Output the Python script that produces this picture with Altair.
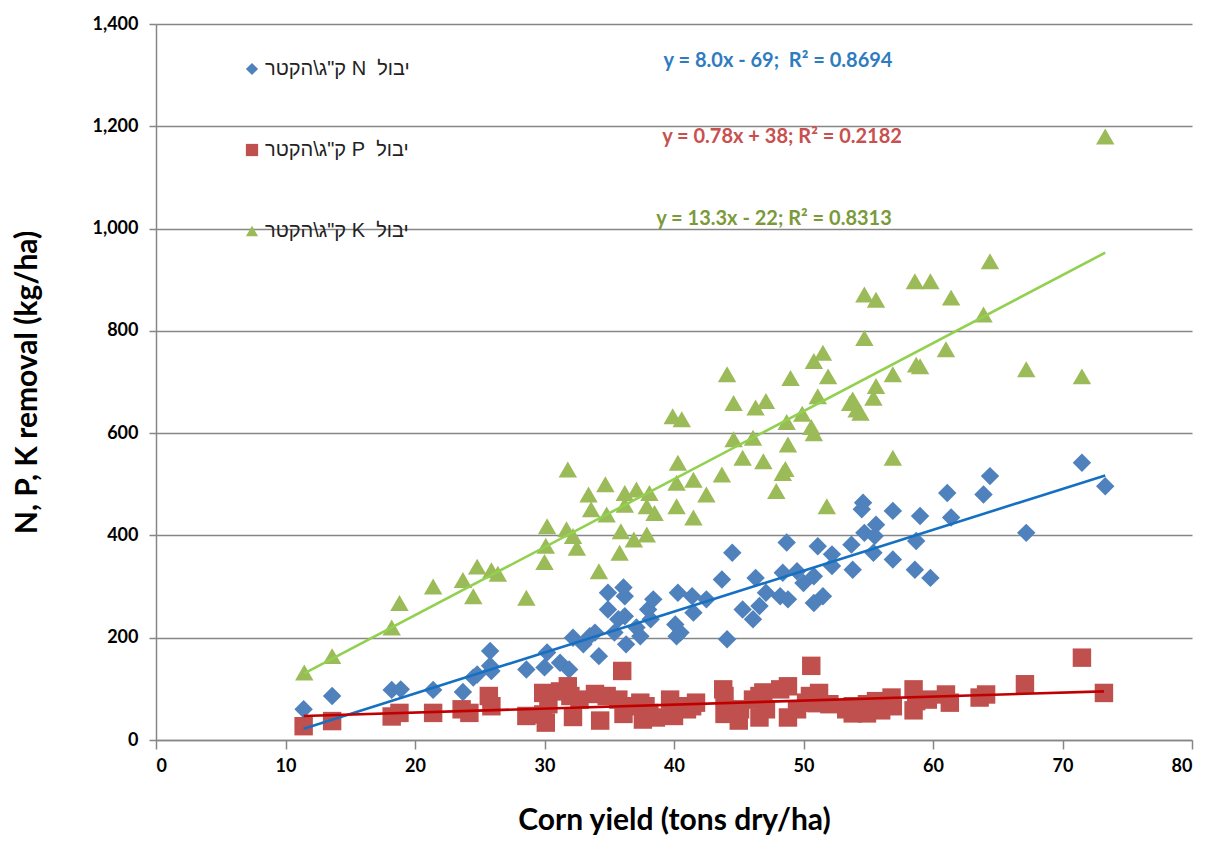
import altair as alt
import pandas as pd

# ---- data ----
n_x = [11.4, 13.6, 18.2, 18.9, 21.4, 23.7, 24.5, 24.8, 25.8, 25.8, 25.9, 28.6, 30.0, 30.2, 31.2, 31.9,
       32.2, 33.0, 33.5, 33.9, 34.2, 34.9, 34.9, 36.1, 36.2, 35.7, 36.2, 35.4, 36.3, 37.1, 37.4, 38.0,
       38.4, 38.2, 40.1, 40.5, 40.2, 40.3, 41.4, 41.5, 42.5, 43.7, 44.5, 44.1, 45.3, 46.1, 46.6, 47.1,
       46.3, 48.2, 48.8, 48.4, 49.5, 50.0, 48.7, 50.8, 51.5, 50.8, 51.1, 52.2, 52.2, 53.7, 53.8, 54.6,
       54.5, 54.7, 55.6, 55.5, 55.4, 56.9, 56.9, 58.7, 58.6, 59.0, 59.8, 61.1, 61.4, 63.9, 64.4, 67.2,
       71.5, 73.3]
n_y = [60, 86, 98, 99, 98, 94, 122, 128, 174, 145, 135, 138, 142, 171, 151, 138,
       200, 187, 203, 210, 164, 288, 255, 298, 281, 236, 242, 210, 187, 220, 203, 255,
       275, 236, 226, 210, 203, 288, 281, 249, 275, 314, 366, 197, 255, 236, 262, 288,
       317, 281, 275, 327, 330, 307, 386, 268, 281, 320, 379, 363, 340, 382, 333, 464,
       451, 405, 421, 399, 366, 448, 353, 389, 333, 438, 317, 483, 435, 480, 516, 405,
       542, 496]

p_x = [11.4, 13.6, 18.2, 18.8, 21.4, 23.6, 24.2, 25.7, 25.9, 28.6, 29.9, 29.9, 30.1, 30.3, 31.2, 31.8,
       32.0, 32.2, 32.7, 33.9, 34.3, 34.8, 35.7, 36.0, 36.3, 36.1, 37.4, 37.8, 37.6, 38.1, 38.6, 39.7,
       40.0, 40.0, 41.0, 41.4, 41.7, 43.8, 43.9, 44.0, 43.9, 45.1, 45.0, 46.1, 46.6, 46.6, 47.1, 46.9,
       48.2, 48.8, 48.8, 49.5, 50.2, 50.6, 50.5, 51.0, 51.2, 52.0, 53.3, 53.8, 53.8, 54.9, 54.9, 55.6,
       56.0, 56.8, 56.9, 58.5, 58.5, 58.7, 59.6, 61.0, 61.3, 63.6, 64.1, 67.1, 71.5, 73.2]
p_y = [27, 37, 46, 53, 53, 60, 53, 86, 66, 47, 92, 50, 34, 70, 95, 105,
       86, 45, 79, 90, 38, 86, 79, 135, 66, 51, 73, 66, 40, 53, 44, 79,
       47, 66, 60, 66, 73, 99, 86, 60, 51, 60, 38, 79, 86, 44, 60, 93,
       99, 105, 44, 60, 73, 145, 86, 72, 92, 70, 60, 66, 52, 52, 70, 76,
       58, 83, 66, 99, 58, 76, 79, 89, 73, 83, 89, 109, 161, 92]

k_x = [11.45, 13.6, 18.2, 18.8, 21.4, 23.7, 24.5, 24.8, 25.9, 26.4, 28.6, 30.0, 30.1, 30.2, 31.7, 32.2,
       32.5, 31.8, 33.4, 33.6, 34.7, 34.8, 34.2, 35.8, 35.9, 36.2, 36.2, 37.1, 36.9, 37.9, 37.9, 38.1,
       38.5, 39.9, 40.6, 40.3, 40.2, 40.2, 41.5, 41.5, 42.5, 43.7, 44.1, 44.6, 44.6, 45.3, 46.3, 47.1,
       46.1, 46.9, 47.9, 48.4, 48.6, 48.8, 49.0, 48.7, 49.9, 50.6, 50.8, 50.8, 51.5, 51.9, 51.1, 51.8,
       54.7, 55.6, 58.6, 59.8, 61.4, 63.9, 64.4, 54.7, 61.0, 56.9, 58.7, 59.0, 53.8, 53.6, 54.1, 55.6,
       55.4, 54.4, 67.2, 71.5, 56.9, 73.3]
k_y = [132, 164, 220, 268, 300, 313, 281, 339, 332, 325, 278, 348, 380, 418, 412, 399,
       376, 529, 480, 451, 500, 441, 330, 366, 408, 483, 460, 490, 392, 402, 457, 483,
       444, 633, 627, 542, 503, 457, 509, 435, 480, 519, 715, 659, 588, 552, 650, 663,
       591, 545, 487, 522, 530, 578, 708, 622, 638, 612, 600, 741, 757, 711, 672, 457,
       871, 861, 897, 897, 865, 832, 936, 786, 764, 715, 734, 731, 666, 659, 646, 692,
       669, 640, 725, 711, 552, 1180]

labels = ['ק"ג\\הקטר\u00a0N\u00a0\u00a0יבול', 'ק"ג\\הקטר\u00a0P\u00a0\u00a0יבול', 'ק"ג\\הקטר\u00a0K\u00a0\u00a0יבול']
marker_colors = ["#4F81BD", "#C0504D", "#9BBB59"]
marker_shapes = ["diamond", "square", "triangle-up"]
line_colors = ["#1670C2", "#C00000", "#92D050"]
eq_colors = ["#2E7CC0", "#C8504E", "#7A9A3A"]
slopes = [8.0, 0.78, 13.3]
intercepts = [-69, 38, -22]
equations = ["y = 8.0x - 69;\u00a0 R² = 0.8694",
             "y = 0.78x + 38; R² = 0.2182",
             "y = 13.3x - 22; R² = 0.8313"]
x_ticks = [0, 10, 20, 30, 40, 50, 60, 70, 80]
y_ticks = [0, 200, 400, 600, 800, 1000, 1200, 1400]

# ---- tables ----
series_xy = [(n_x, n_y), (p_x, p_y), (k_x, k_y)]
rows = []
for lab, (xs, ys) in zip(labels, series_xy):
    for a, b in zip(xs, ys):
        rows.append({"x": a, "y": b, "series": lab})
pts_df = pd.DataFrame(rows)

line_dfs = []
for (xs, _), m, c in zip(series_xy, slopes, intercepts):
    x0, x1 = min(xs), max(xs)
    line_dfs.append(pd.DataFrame({"x": [x0, x1], "y": [m * x0 + c, m * x1 + c]}))

GRID = "#868686"
FONT = "Lato"
HEB = "Liberation Sans, DejaVu Sans, Arial"

x_enc = alt.X("x:Q", scale=alt.Scale(domain=[0, 80], nice=False),
              axis=alt.Axis(values=x_ticks, title="Corn yield (tons dry/ha)", grid=False,
                            domainColor=GRID, domainWidth=1.5, tickColor=GRID, tickWidth=1.5,
                            tickSize=9, labelPadding=8, labelFont=FONT, labelFontWeight="bold",
                            labelFontSize=18, labelColor="#000000",
                            titleFont=FONT, titleFontWeight="bold", titleFontSize=30,
                            titleColor="#000000", titlePadding=30))
y_enc = alt.Y("y:Q", scale=alt.Scale(domain=[0, 1400], nice=False),
              axis=alt.Axis(values=y_ticks, format=",d", title="N, P, K removal (kg/ha)",
                            grid=True, gridColor=GRID, gridWidth=1.5,
                            domainColor=GRID, domainWidth=1.5, tickColor=GRID, tickWidth=1.5,
                            tickSize=7, labelPadding=11, labelFont=FONT, labelFontWeight="bold",
                            labelFontSize=18, labelColor="#000000",
                            titleFont=FONT, titleFontWeight="bold", titleFontSize=30,
                            titleColor="#000000", titlePadding=50))

legend = alt.Legend(title=None, orient="none", legendX=86, legendY=35, direction="vertical",
                    rowPadding=61, symbolSize=150, symbolStrokeWidth=0, padding=0,
                    labelFont=HEB, labelFontSize=20, labelColor="#222222", labelLimit=400,
                    labelOffset=3)

points = alt.Chart(pts_df).mark_point(filled=True, opacity=1, size=340, strokeWidth=0).encode(
    x=x_enc,
    y=y_enc,
    color=alt.Color("series:N", scale=alt.Scale(domain=labels, range=marker_colors), legend=legend),
    shape=alt.Shape("series:N", scale=alt.Scale(domain=labels, range=marker_shapes), legend=legend),
)

layers = [points]
for ldf, col in zip(line_dfs, line_colors):
    layers.append(alt.Chart(ldf).mark_line(color=col, strokeWidth=2.6).encode(x="x:Q", y="y:Q"))

eq_pos = [(622, 37), (626, 113), (618, 195)]
for eq, col, (px, py) in zip(equations, eq_colors, eq_pos):
    layers.append(alt.Chart(pd.DataFrame({"t": [eq]})).mark_text(
        color=col, font=FONT, fontWeight="bold", fontSize=20, align="center", baseline="middle"
    ).encode(text="t:N", x=alt.value(px), y=alt.value(py)))

chart = alt.layer(*layers).properties(
    width=1036, height=716,
    autosize=alt.AutoSizeParams(type="none"),
    padding={"left": 156, "top": 24, "right": 28, "bottom": 103},
    background="white",
).configure_view(stroke="transparent")

chart.save("out.html", embed_options={"renderer": "svg", "actions": False})
